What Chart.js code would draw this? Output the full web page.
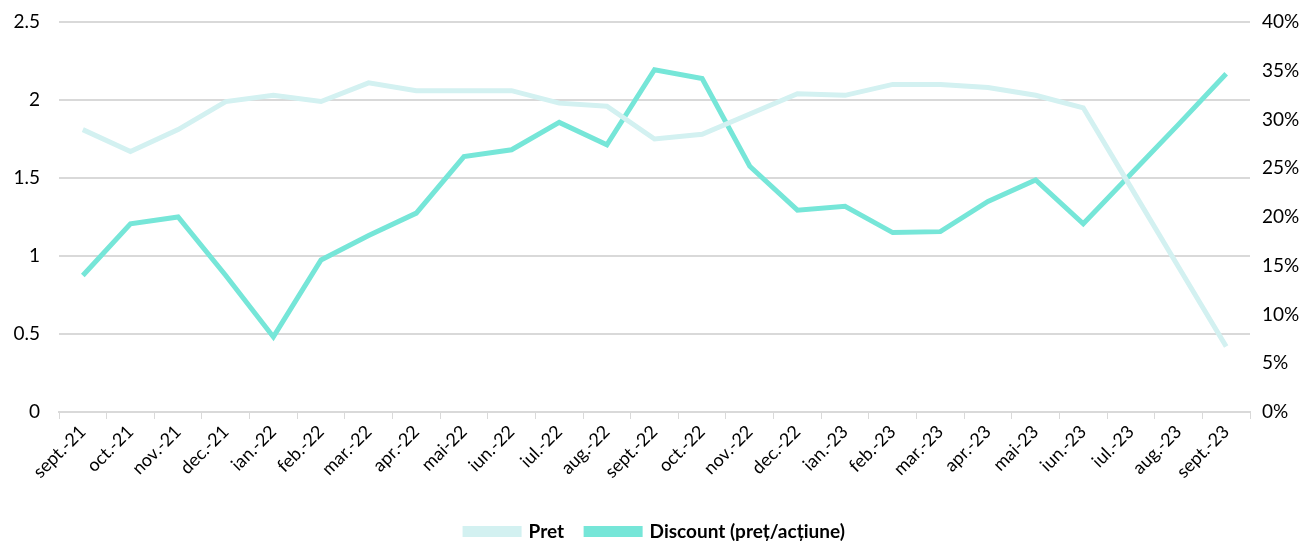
<!DOCTYPE html>
<html lang="ro">
<head>
  <meta charset="UTF-8">
  <title>Pret si discount</title>
  <style>
    html, body { margin: 0; padding: 0; background: #fff; }
    .wrap { width: 1310px; height: 541px; position: relative; }
  </style>
  <script src="https://cdn.jsdelivr.net/npm/chart.js"></script>
</head>
<body>
  <div class="wrap"><canvas id="c"></canvas></div>
  <script>
    const months = ["sept.-21", "oct.-21", "nov.-21", "dec.-21", "ian.-22", "feb.-22", "mar.-22", "apr.-22",
      "mai-22", "iun.-22", "iul.-22", "aug.-22", "sept.-22", "oct.-22", "nov.-22", "dec.-22", "ian.-23",
      "feb.-23", "mar.-23", "apr.-23", "mai-23", "iun.-23", "iul.-23", "aug.-23", "sept.-23"];

    // Pret (left axis)
    const pret = [1.81, 1.67, 1.81, 1.99, 2.03, 1.99, 2.11, 2.06, 2.06, 2.06, 1.98, 1.96, 1.75,
      1.78, 1.91, 2.04, 2.03, 2.10, 2.10, 2.08, 2.03, 1.95, 1.44, 0.93, 0.42];

    // Discount (pret/actiune), right axis, as fraction
    const discount = [0.140, 0.193, 0.200, 0.140, 0.077, 0.156, 0.181, 0.204, 0.262, 0.269, 0.297,
      0.274, 0.351, 0.342, 0.252, 0.207, 0.211, 0.184, 0.185, 0.216, 0.238, 0.193, 0.244, 0.295, 0.347];

    const font = "Lato, 'Open Sans', sans-serif";
    const gridColor = "#d9d9d9";

    // fixed axis sizes so the plot area sits where it does in the original
    function fitY(width) {
      return s => { s.width = width; s.paddingTop = 0; s.paddingBottom = 0; };
    }

    new Chart(document.getElementById("c"), {
      type: "line",
      data: {
        labels: months,
        datasets: [
          {
            label: "Pret",
            data: pret,
            yAxisID: "y",
            borderColor: "#d3f1f1",
            backgroundColor: "#d3f1f1",
            borderWidth: 5,
            pointRadius: 0,
            tension: 0
          },
          {
            label: "Discount (preț/acțiune)",
            data: discount,
            yAxisID: "y1",
            borderColor: "#76e6d8",
            backgroundColor: "#76e6d8",
            borderWidth: 5,
            pointRadius: 0,
            tension: 0
          }
        ]
      },
      options: {
        responsive: true,
        maintainAspectRatio: false,
        animation: false,
        layout: { padding: { left: 0, right: 0, top: 22, bottom: -10 } },
        plugins: {
          tooltip: { enabled: false },
          legend: {
            position: "bottom",
            labels: {
              color: "#000",
              font: { family: font, size: 19, weight: "bold" },
              boxWidth: 54,
              boxHeight: 6,
              padding: 22
            }
          }
        },
        scales: {
          x: {
            offset: true,
            afterFit: s => { s.height = 88; },
            grid: { offset: true, drawOnChartArea: false, drawTicks: true, tickLength: 7, color: gridColor },
            border: { display: true, color: gridColor, width: 2 },
            ticks: {
              color: "#000",
              font: { family: font, size: 18 },
              maxRotation: 45,
              minRotation: 45,
              autoSkip: false,
              padding: 2
            }
          },
          y: {
            position: "left",
            min: 0,
            max: 2.5,
            afterFit: fitY(59),
            grid: { color: gridColor, lineWidth: 2, drawTicks: false },
            border: { display: false },
            ticks: {
              stepSize: 0.5,
              color: "#000",
              font: { family: font, size: 19 },
              padding: 19,
              callback: v => String(v)
            }
          },
          y1: {
            position: "right",
            min: 0,
            max: 0.4,
            afterFit: fitY(60),
            grid: { drawOnChartArea: false, drawTicks: false },
            border: { display: false },
            ticks: {
              stepSize: 0.05,
              color: "#000",
              font: { family: font, size: 19 },
              padding: 12,
              callback: v => Math.round(v * 100) + "%"
            }
          }
        }
      }
    });
  </script>
</body>
</html>
